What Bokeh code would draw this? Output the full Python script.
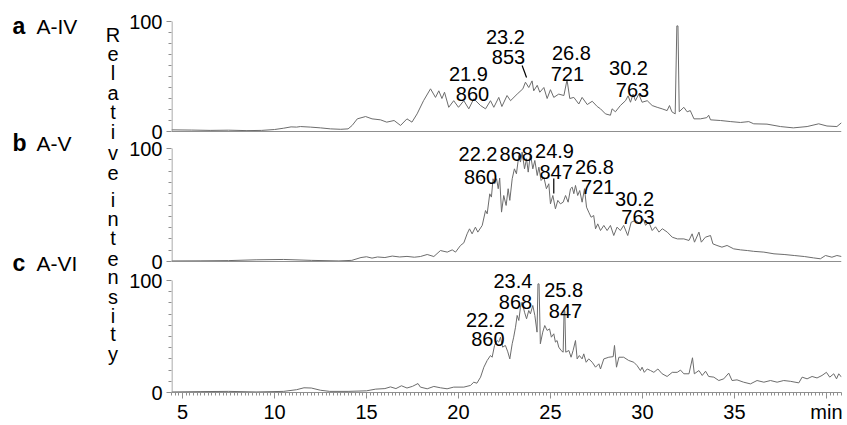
from bokeh.plotting import figure
from bokeh.layouts import row
from bokeh.models import Range1d, FixedTicker, SingleIntervalTicker, Span, Arrow
from bokeh.core.properties import value
from bokeh.embed import file_html
from bokeh.resources import INLINE

# ---------------------------------------------------------------------------
# Chromatogram traces (retention time in min, relative intensity in %)
# ---------------------------------------------------------------------------
time_a = [4.40, 5.5, 6.5, 7.5, 8.5, 9.3, 10.0, 10.5, 10.9, 11.2, 11.41, 11.95,
          12.5, 13.04, 13.6, 14.0, 14.22, 14.5, 14.95, 15.3, 15.76, 16.1, 16.5,
          16.85, 17.2, 17.47, 17.75, 18.1, 18.48, 18.75, 18.93, 19.1, 19.24,
          19.47, 19.74, 20.0, 20.29, 20.56, 20.83, 21.2, 21.47, 21.74, 21.92,
          22.19, 22.36, 22.64, 22.83, 23.19, 23.5, 23.64, 23.82, 24.0, 24.09,
          24.28, 24.42, 24.64, 24.82, 25.0, 25.18, 25.45, 25.73, 25.9, 26.05,
          26.27, 26.54, 26.72, 27.0, 27.27, 27.54, 27.72, 27.99, 28.26, 28.35,
          28.53, 28.8, 29.08, 29.22, 29.35, 29.49, 29.62, 29.8, 29.98, 30.26,
          30.53, 30.8, 31.07, 31.34, 31.47, 31.6, 31.78, 31.87, 31.93, 32.0,
          32.25, 32.43, 32.6, 32.8, 33.15, 33.5, 33.6, 33.7, 34.24, 34.8, 35.33,
          35.78, 36.05, 36.77, 37.5, 38.2, 38.95, 39.58, 40.03, 40.57, 40.82]
signal_a = [1.5, 1.3, 1.0, 1.2, 0.8, 1.0, 1.8, 3.0, 4.2, 4.0, 4.5, 4.0,
            3.3, 2.4, 2.0, 2.4, 5.5, 11.5, 13.6, 11.5, 10.6, 8.5, 10.0,
            5.5, 11.5, 8.5, 16.0, 28.0, 38.8, 31.0, 37.0, 30.0, 35.7,
            22.0, 28.0, 22.0, 28.0, 20.6, 29.7, 23.6, 20.6, 28.0, 22.0,
            31.0, 22.7, 32.7, 28.0, 34.0, 38.8, 44.8, 40.0, 46.0, 37.0,
            42.0, 35.7, 40.0, 30.0, 38.0, 31.0, 34.0, 32.7, 47.0, 30.0,
            31.0, 25.0, 31.0, 24.5, 27.5, 22.7, 20.6, 16.0, 14.8, 20.6,
            17.9, 23.6, 28.0, 32.4, 26.6, 34.0, 28.0, 34.0, 26.6, 28.0,
            23.6, 22.0, 20.6, 19.0, 23.6, 17.9, 16.0, 96.0, 96.0, 18.0,
            22.0, 17.9, 19.0, 11.5, 11.5, 12.6, 14.8, 10.6, 10.0, 9.0, 8.2,
            9.0, 7.0, 6.7, 4.5, 3.3, 4.5, 7.0, 5.0, 4.5, 8.0]

time_b = [4.40, 6.0, 7.5, 9.0, 10.5, 12.0, 13.5, 14.2, 14.7, 15.0, 15.3, 15.6,
          16.0, 16.4, 16.8, 17.2, 17.6, 17.93, 18.3, 18.66, 19.02, 19.39,
          19.66, 19.84, 20.11, 20.29, 20.47, 20.6, 20.74, 20.92, 21.05, 21.29,
          21.47, 21.56, 21.7, 21.79, 21.88, 21.97, 22.07, 22.16, 22.24, 22.34,
          22.46, 22.59, 22.7, 22.79, 22.92, 23.04, 23.15, 23.28, 23.37, 23.46,
          23.59, 23.7, 23.79, 23.91, 24.04, 24.15, 24.28, 24.37, 24.49, 24.64,
          24.78, 24.91, 25.0, 25.13, 25.27, 25.4, 25.54, 25.69, 25.82, 25.96,
          26.09, 26.18, 26.27, 26.36, 26.48, 26.59, 26.72, 26.85, 26.96, 27.08,
          27.21, 27.35, 27.45, 27.57, 27.72, 27.9, 28.08, 28.26, 28.44, 28.62,
          28.8, 28.98, 29.2, 29.39, 29.62, 29.89, 30.04, 30.17, 30.35, 30.53,
          30.71, 30.9, 31.08, 31.35, 31.62, 31.9, 32.25, 32.53, 32.7, 32.83,
          33.07, 33.2, 33.42, 33.7, 33.83, 34.05, 34.32, 34.6, 34.96, 35.33,
          35.7, 36.05, 36.6, 37.15, 37.7, 38.25, 38.8, 39.3, 39.67, 39.95,
          40.3, 40.57, 40.82]
signal_b = [0.5, 0.6, 0.8, 1.5, 1.8, 1.0, 0.5, 1.0, 3.5, 4.2, 3.0, 4.0,
            3.5, 4.8, 4.0, 4.5, 3.8, 4.4, 6.2, 4.4, 9.7, 8.3,
            10.3, 8.3, 14.2, 16.5, 24.5, 28.9, 24.5, 30.4, 26.0, 31.9,
            45.1, 42.2, 59.9, 57.0, 73.2, 68.8, 73.2, 64.4, 73.8, 43.7,
            58.4, 49.6, 64.4, 54.1, 73.2, 82.0, 77.6, 93.8, 88.0, 96.7,
            82.0, 90.9, 79.1, 95.3, 82.0, 89.4, 76.1, 83.5, 71.7, 74.6,
            64.4, 68.8, 51.0, 58.4, 46.6, 54.1, 51.0, 52.5, 58.4, 52.5,
            64.4, 65.8, 60.0, 67.3, 58.4, 62.8, 52.5, 64.4, 48.1, 43.7,
            39.2, 40.7, 28.9, 33.3, 27.4, 31.9, 27.4, 31.9, 23.0, 30.4,
            27.4, 31.9, 23.0, 34.8, 36.3, 33.3, 37.8, 32.0, 34.8, 27.4,
            30.7, 26.0, 29.0, 26.0, 21.5, 20.0, 20.0, 18.6, 24.5, 17.1,
            26.0, 17.1, 21.5, 23.0, 15.6, 14.2, 12.7, 14.2, 11.2, 10.3,
            9.7, 9.0, 8.3, 6.8, 6.2, 5.3, 4.4, 3.2, 2.4, 5.3,
            3.8, 5.3, 4.4]

time_c = [4.40, 6.0, 7.5, 9.0, 10.5, 11.2, 11.6, 12.0, 12.5, 13.0, 14.0, 15.0,
          15.5, 16.0, 16.3, 16.6, 16.9, 17.2, 17.5, 17.8, 17.93, 18.3, 18.66,
          19.02, 19.38, 19.74, 20.29, 20.65, 20.83, 21.0, 21.2, 21.38, 21.56,
          21.74, 21.83, 21.96, 22.1, 22.19, 22.28, 22.4, 22.55, 22.68, 22.79,
          22.92, 23.0, 23.1, 23.19, 23.28, 23.37, 23.46, 23.59, 23.7, 23.82,
          23.91, 24.04, 24.15, 24.27, 24.32, 24.38, 24.45, 24.58, 24.69, 24.82,
          24.95, 25.05, 25.18, 25.27, 25.36, 25.45, 25.58, 25.69, 25.74, 25.78,
          25.83, 26.0, 26.12, 26.23, 26.36, 26.45, 26.57, 26.72, 26.81, 26.94,
          27.08, 27.27, 27.45, 27.63, 27.72, 27.9, 28.17, 28.41, 28.48, 28.59,
          28.72, 28.98, 29.25, 29.53, 29.71, 29.89, 29.98, 30.1, 30.26, 30.44,
          30.62, 30.84, 31.07, 31.34, 31.62, 31.89, 32.07, 32.25, 32.53, 32.72,
          32.82, 33.07, 33.25, 33.43, 33.6, 33.88, 34.15, 34.42, 34.69, 34.87,
          35.14, 35.5, 35.87, 36.23, 36.6, 36.96, 37.32, 37.68, 38.04, 38.5,
          38.68, 38.95, 39.22, 39.49, 39.76, 40.0, 40.18, 40.4, 40.55, 40.67,
          40.82]
signal_c = [0.5, 0.8, 1.0, 0.5, 1.0, 2.5, 4.2, 4.0, 2.0, 1.0, 1.0, 1.5,
            3.0, 3.5, 5.0, 3.5, 6.0, 4.0, 5.5, 8.0, 4.8, 3.3, 5.4,
            4.2, 3.3, 4.8, 4.8, 6.3, 9.2, 8.3, 13.7, 22.6, 28.6,
            33.0, 31.5, 42.0, 46.4, 45.0, 49.4, 40.5, 42.0, 36.3, 30.0,
            43.5, 49.4, 58.3, 68.8, 64.3, 76.2, 80.6, 71.7, 65.8, 73.2,
            70.2, 77.7, 68.8, 53.9, 97.0, 97.0, 43.5, 53.9, 59.8, 55.4,
            56.8, 49.4, 52.4, 45.0, 46.4, 40.5, 37.5, 36.0, 73.2, 73.2,
            36.0, 37.5, 31.5, 37.5, 46.4, 30.0, 33.0, 30.0, 34.5, 27.0,
            30.0, 27.0, 22.6, 25.6, 21.0, 30.0, 31.5, 32.0, 42.0, 22.6,
            31.5, 31.5, 28.6, 27.0, 24.0, 19.6, 22.6, 18.0, 21.0, 19.6,
            18.0, 21.0, 16.7, 14.3, 18.0, 18.0, 20.0, 16.7, 16.7, 31.0,
            16.7, 19.6, 15.2, 19.0, 14.3, 13.7, 10.7, 12.2, 17.3, 10.7,
            11.3, 9.2, 7.7, 10.7, 9.2, 10.7, 9.2, 10.7, 10.0, 8.6,
            13.7, 12.2, 14.3, 13.0, 15.2, 18.0, 13.7, 16.7, 12.2, 16.7,
            13.7]

# Sample names and peak annotations (retention time / m/z)
sample_letters = ["a", "b", "c"]
sample_names = ["A-IV", "A-V", "A-VI"]
peak_rt = {"a": ["21.9", "23.2", "26.8", "30.2"],
           "b": ["22.2", "", "24.9", "26.8", "30.2"],
           "c": ["22.2", "23.4", "25.8"]}
peak_mz = {"a": ["860", "853", "721", "763"],
           "b": ["860", "868", "847", "721", "763"],
           "c": ["860", "868", "847"]}
y_ticks_labels = ["0", "100"]
y_title = "Relative intensity"

# ---------------------------------------------------------------------------
# Layout
# ---------------------------------------------------------------------------
FONT = "Liberation Sans"
TRACE = "#6c6c6c"
AXIS = "#8f8f8f"

H = 425
SIDE_W = 124              # strip holding the sample names and the axis title
W = 847 - SIDE_W          # chromatogram figure
LEFT, RIGHT, TOP, BOTTOM = 47, 6, 0, 33
FRAME_H = H - TOP - BOTTOM
X0, X1 = 4.40, 40.82
PX_PER_MIN = (W - LEFT - RIGHT) / (X1 - X0)

# pixel rows (from the top of the frame) of each trace's 0 % and 100 % level
panel_zero = {"a": 131, "b": 261, "c": 392}
panel_full = {"a": 21, "b": 148, "c": 280}


def panel_range(name):
    per_px = 100.0 / (panel_zero[name] - panel_full[name])
    return Range1d(start=-(FRAME_H - panel_zero[name]) * per_px,
                   end=panel_zero[name] * per_px)


p = figure(width=W, height=H, output_backend="svg", toolbar_location=None,
           x_range=Range1d(X0, X1), y_range=Range1d(FRAME_H, 0),
           min_border_left=LEFT, min_border_right=RIGHT,
           min_border_top=TOP, min_border_bottom=BOTTOM)
p.extra_y_ranges = {n: panel_range(n) for n in sample_letters}
p.outline_line_color = None
p.grid.visible = False
p.background_fill_color = "white"
p.border_fill_color = "white"

# --- time axis -------------------------------------------------------------
xa = p.xaxis[0]
xa.ticker = SingleIntervalTicker(interval=5, num_minor_ticks=25)
xa.major_label_overrides = {40: "min"}
xa.axis_line_color = AXIS
xa.major_tick_line_color = AXIS
xa.minor_tick_line_color = AXIS
xa.major_tick_in = 0
xa.major_tick_out = 6
xa.minor_tick_in = 0
xa.minor_tick_out = 3
xa.major_label_standoff = 2
xa.major_label_text_font = FONT
xa.major_label_text_font_size = "20px"
xa.major_label_text_color = "black"

# --- intensity axis: one 0/100 scale per trace --------------------------------
major, minor, overrides = [], [], {}
for n in sample_letters:
    z, f = panel_zero[n], panel_full[n]
    major += [z, f]
    overrides[z] = y_ticks_labels[0]
    overrides[f] = y_ticks_labels[1]
    minor += [z - k * (z - f) / 10.0 for k in range(1, 10)]
ya = p.yaxis[0]
ya.ticker = FixedTicker(ticks=major, minor_ticks=minor)
ya.major_label_overrides = overrides
ya.axis_line_color = None
ya.major_tick_line_color = AXIS
ya.minor_tick_line_color = AXIS
ya.major_tick_in = 0
ya.major_tick_out = 5
ya.minor_tick_in = 0
ya.minor_tick_out = 3
ya.major_label_standoff = 4
ya.major_label_text_font = FONT
ya.major_label_text_font_size = "20px"
ya.major_label_text_color = "black"

# vertical scale line of each trace, from 0 to 100 only
x_edge = X0 + 0.5 / PX_PER_MIN
for n in sample_letters:
    p.add_layout(Arrow(end=None, x_start=x_edge, y_start=0, x_end=x_edge,
                       y_end=100, y_range_name=n, line_color=AXIS,
                       line_width=1))
# baselines of the two upper traces
for n in ["a", "b"]:
    p.add_layout(Span(location=0, dimension="width", y_range_name=n,
                      line_color=AXIS, line_width=1))

# --- traces ------------------------------------------------------------------
for n, t, s in zip(sample_letters, [time_a, time_b, time_c],
                   [signal_a, signal_b, signal_c]):
    p.line(t, s, y_range_name=n, line_color=TRACE, line_width=1)

# --- peak annotations ----------------------------------------------------------
# anchor of each annotation: (x, y of the rt line, x, y of the m/z line)
peak_pos = {
    "a": [(20.54, 52.7, 20.76, 34.5), (22.55, 85.5, 22.72, 67.3),
          (26.14, 71.8, 25.92, 52.7), (29.24, 57.3, 29.46, 37.3)],
    "b": [(21.06, 94.7, 21.20, 74.6), (23.14, 94.7, 23.14, 94.7),
          (25.22, 98.2, 25.31, 79.0), (27.39, 83.5, 27.57, 65.8),
          (29.57, 55.5, 29.76, 39.2)],
    "c": [(21.47, 64.3, 21.60, 47.9), (22.96, 100.0, 23.10, 80.6),
          (25.72, 91.1, 25.82, 73.2)],
}
for n in sample_letters:
    xs, ys, txt = [], [], []
    for rt, mz, (xr, yr, xm, ym) in zip(peak_rt[n], peak_mz[n], peak_pos[n]):
        if rt:
            xs.append(xr); ys.append(yr); txt.append(rt)
        xs.append(xm); ys.append(ym); txt.append(mz)
    p.text(x=xs, y=ys, text=txt, y_range_name=n, text_font=value(FONT),
           text_font_size="20px", text_align="center",
           text_baseline="alphabetic", text_color="black")

# leader strokes from labels to their peaks
p.segment(x0=[23.46], y0=[60.0], x1=[23.70], y1=[49.1], y_range_name="a",
          line_color="black", line_width=1.2)
p.segment(x0=[25.18], y0=[73.5], x1=[25.18], y1=[60.2], y_range_name="b",
          line_color="black", line_width=1.2)

# --- side strip: sample labels and the stacked axis title -----------------------
side = figure(width=SIDE_W, height=H, output_backend="svg",
              toolbar_location=None, x_range=Range1d(0, SIDE_W),
              y_range=Range1d(H, 0), x_axis_type=None, y_axis_type=None,
              min_border=0)
side.outline_line_color = None
side.grid.visible = False

label_rows = [28, 155, 285]
side.text(x=[12] * 3, y=label_rows, text=sample_letters,
          text_font=value(FONT), text_font_size="23px",
          text_font_style="bold", text_align="left",
          text_baseline="alphabetic", text_color="black")
side.text(x=[36] * 3, y=label_rows, text=sample_names,
          text_font=value(FONT), text_font_size="21px", text_align="left",
          text_baseline="alphabetic", text_color="black")

title_rows = [37, 58, 79, 100, 121, 143, 165, 187, 216, 237, 258, 280, 300,
              321, 342, 362, 383]
title_chars = list(y_title.replace(" ", ""))
side.text(x=[112.5] * len(title_chars), y=title_rows, text=title_chars,
          text_font=value(FONT), text_font_size="20px", text_align="center",
          text_baseline="alphabetic", text_color="black")

layout = row(side, p)
open("out.html", "w").write(file_html(layout, INLINE))
